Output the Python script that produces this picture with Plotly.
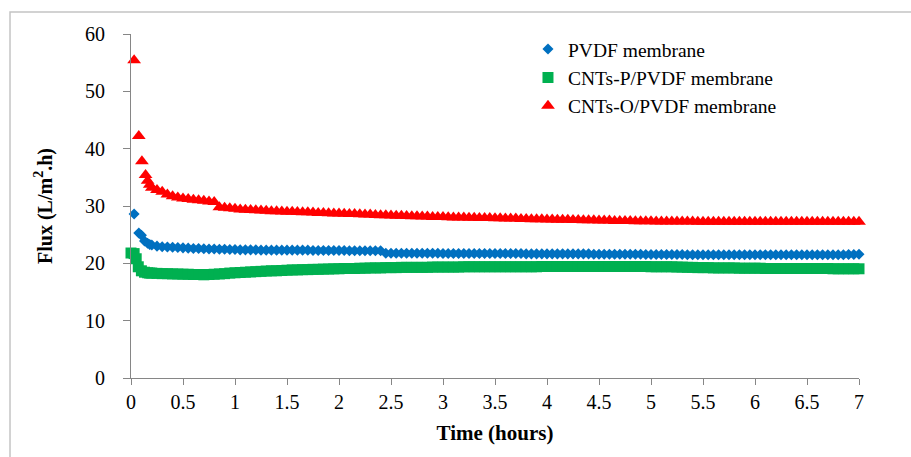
import plotly.graph_objects as go

# Regular sampling grid (hours) used after the first few readings
hours = [round(0.2 + 0.05 * i, 2) for i in range(137)]

# First readings, taken at irregular times
pvdf_early_t = [0.03, 0.075, 0.1, 0.13, 0.16, 0.18]
pvdf_early = [28.6, 25.3, 24.9, 23.9, 23.5, 23.3]

cnt_p_early_t = [0.0, 0.03, 0.05, 0.07, 0.1, 0.13, 0.16, 0.18]
cnt_p_early = [21.8, 21.7, 20.8, 19.4, 18.7, 18.45, 18.35, 18.3]

cnt_o_early_t = [0.03, 0.075, 0.105, 0.14, 0.16, 0.18]
cnt_o_early = [55.4, 42.2, 37.8, 35.4, 34.4, 33.7]

# Flux (L/m2.h) on the regular grid, one row per half hour
pvdf_flux = [
    23.2, 23.0, 22.9, 22.85, 22.8, 22.75, 22.7, 22.65, 22.6, 22.6,
    22.55, 22.5, 22.5, 22.45, 22.45, 22.4, 22.4, 22.35, 22.35, 22.35,
    22.35, 22.3, 22.3, 22.3, 22.3, 22.3, 22.3, 22.3, 22.3, 22.3,
    22.3, 22.25, 22.25, 22.25, 22.25, 22.25, 22.25, 22.25, 22.2, 22.2,
    22.2, 22.2, 22.2, 22.2, 22.2, 21.75, 21.75, 21.75, 21.75, 21.75,
    21.75, 21.75, 21.75, 21.75, 21.75, 21.75, 21.7, 21.7, 21.7, 21.7,
    21.7, 21.7, 21.7, 21.7, 21.7, 21.7, 21.7, 21.7, 21.7, 21.7,
    21.7, 21.7, 21.65, 21.65, 21.65, 21.65, 21.65, 21.65, 21.65, 21.65,
    21.65, 21.65, 21.65, 21.65, 21.65, 21.6, 21.6, 21.6, 21.6, 21.6,
    21.6, 21.6, 21.6, 21.6, 21.6, 21.55, 21.55, 21.55, 21.55, 21.55,
    21.55, 21.55, 21.55, 21.5, 21.5, 21.5, 21.5, 21.5, 21.5, 21.5,
    21.5, 21.5, 21.5, 21.5, 21.5, 21.5, 21.5, 21.5, 21.5, 21.5,
    21.5, 21.5, 21.5, 21.5, 21.5, 21.5, 21.5, 21.5, 21.5, 21.5,
    21.5, 21.5, 21.5, 21.5, 21.55, 21.55, 21.6,
]

cnt_p_flux = [
    18.3, 18.25, 18.2, 18.2, 18.15, 18.15, 18.1, 18.1, 18.05, 18.05,
    18.0, 18.05, 18.1, 18.15, 18.2, 18.3, 18.35, 18.4, 18.45, 18.5,
    18.55, 18.6, 18.65, 18.7, 18.7, 18.75, 18.8, 18.85, 18.85, 18.9,
    18.9, 18.95, 18.95, 19.0, 19.0, 19.05, 19.05, 19.1, 19.1, 19.1,
    19.15, 19.15, 19.2, 19.2, 19.2, 19.25, 19.25, 19.25, 19.3, 19.3,
    19.3, 19.3, 19.3, 19.3, 19.35, 19.35, 19.35, 19.35, 19.35, 19.35,
    19.4, 19.4, 19.4, 19.4, 19.4, 19.4, 19.4, 19.4, 19.4, 19.4,
    19.4, 19.4, 19.4, 19.4, 19.4, 19.45, 19.45, 19.45, 19.45, 19.45,
    19.45, 19.45, 19.45, 19.45, 19.45, 19.45, 19.45, 19.45, 19.45, 19.45,
    19.45, 19.45, 19.45, 19.45, 19.45, 19.45, 19.4, 19.4, 19.4, 19.4,
    19.4, 19.35, 19.35, 19.3, 19.3, 19.25, 19.25, 19.25, 19.2, 19.2,
    19.2, 19.2, 19.2, 19.15, 19.15, 19.15, 19.15, 19.15, 19.1, 19.1,
    19.1, 19.1, 19.1, 19.1, 19.1, 19.1, 19.1, 19.1, 19.1, 19.1,
    19.1, 19.05, 19.05, 19.05, 19.05, 19.05, 19.05,
]

cnt_o_flux = [
    33.2, 32.8, 32.5, 32.0, 31.7, 31.5, 31.3, 31.2, 31.1, 31.0,
    30.9, 30.8, 30.7, 29.8, 29.7, 29.6, 29.5, 29.4, 29.35, 29.3,
    29.25, 29.2, 29.15, 29.1, 29.1, 29.05, 29.0, 29.0, 28.95, 28.9,
    28.9, 28.85, 28.8, 28.8, 28.75, 28.7, 28.7, 28.65, 28.6, 28.6,
    28.55, 28.5, 28.5, 28.45, 28.4, 28.4, 28.35, 28.3, 28.3, 28.25,
    28.2, 28.2, 28.15, 28.15, 28.1, 28.1, 28.1, 28.05, 28.0, 28.0,
    28.0, 27.95, 27.95, 27.9, 27.9, 27.9, 27.85, 27.85, 27.8, 27.8,
    27.8, 27.75, 27.75, 27.7, 27.7, 27.7, 27.65, 27.65, 27.6, 27.6,
    27.6, 27.55, 27.55, 27.5, 27.5, 27.5, 27.45, 27.45, 27.45, 27.4,
    27.4, 27.4, 27.4, 27.35, 27.35, 27.35, 27.35, 27.3, 27.3, 27.3,
    27.3, 27.3, 27.3, 27.3, 27.3, 27.25, 27.25, 27.25, 27.25, 27.25,
    27.25, 27.25, 27.25, 27.25, 27.25, 27.25, 27.25, 27.25, 27.25, 27.25,
    27.25, 27.25, 27.25, 27.25, 27.25, 27.25, 27.25, 27.25, 27.25, 27.25,
    27.25, 27.25, 27.25, 27.25, 27.25, 27.25, 27.25,
]

x_ticks = [0, 0.5, 1, 1.5, 2, 2.5, 3, 3.5, 4, 4.5, 5, 5.5, 6, 6.5, 7]
y_ticks = [0, 10, 20, 30, 40, 50, 60]

FONT = "Liberation Serif"
AXIS_GREY = "#868686"

series = [
    ("PVDF membrane", pvdf_early_t, pvdf_early, pvdf_flux,
     "diamond", 8.5, "rgb(0,112,192)"),
    ("CNTs-P/PVDF membrane", cnt_p_early_t, cnt_p_early, cnt_p_flux,
     "square", 11, "rgb(0,176,80)"),
    ("CNTs-O/PVDF membrane", cnt_o_early_t, cnt_o_early, cnt_o_flux,
     "triangle-up", 12, "rgb(255,0,0)"),
]

fig = go.Figure()
for name, t0, v0, v, symbol, size, color in series:
    fig.add_trace(go.Scatter(
        x=t0 + hours,
        y=v0 + v,
        mode="markers",
        name=name,
        cliponaxis=False,
        marker=dict(symbol=symbol, size=size, color=color, line=dict(width=0)),
    ))

# Light frame around the chart area
fig.add_shape(
    type="rect", xref="paper", yref="paper",
    x0=-0.1662, x1=1.3, y0=-0.5, y1=1.064,
    line=dict(color="#c4c4c4", width=1.5), fillcolor="rgba(0,0,0,0)",
    layer="below",
)

fig.update_layout(
    width=911, height=457,
    margin=dict(l=131, r=52, t=34, b=79),
    paper_bgcolor="white", plot_bgcolor="white",
    font=dict(family=FONT, size=18, color="black"),
    showlegend=True,
    legend=dict(
        x=0.5453, y=1.012, xanchor="left", yanchor="top",
        bgcolor="rgba(0,0,0,0)", borderwidth=0,
        font=dict(family=FONT, size=19.5, color="black"),
        itemwidth=30,
    ),
)

fig.update_xaxes(
    range=[0, 7], tickvals=x_ticks, ticktext=[f"{v:g}" for v in x_ticks],
    showline=True, linecolor=AXIS_GREY, linewidth=1,
    ticks="outside", ticklen=6, tickcolor=AXIS_GREY, tickwidth=1,
    showgrid=False, zeroline=False, ticklabelstandoff=0,
    tickfont=dict(family=FONT, size=20, color="black"),
    title=dict(text="<b>Time (hours)</b>", standoff=13,
               font=dict(family=FONT, size=21, color="black")),
)
fig.update_yaxes(
    range=[0, 60], tickvals=y_ticks,
    showline=True, linecolor=AXIS_GREY, linewidth=1,
    ticks="outside", ticklen=7, tickcolor=AXIS_GREY, tickwidth=1,
    showgrid=False, zeroline=False, ticklabelstandoff=14,
    tickfont=dict(family=FONT, size=20, color="black"),
    title=dict(text="<b>Flux (L/m<sup>2</sup>.h)</b>", standoff=27,
               font=dict(family=FONT, size=20, color="black")),
)

fig.write_html("out.html")
